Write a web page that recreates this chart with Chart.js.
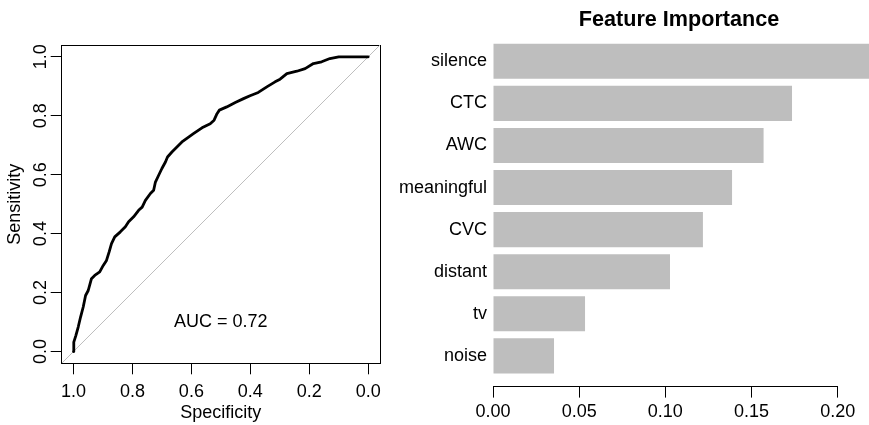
<!DOCTYPE html>
<html><head><meta charset="utf-8">
<script src="https://cdn.jsdelivr.net/npm/chart.js@4.4.1/dist/chart.umd.min.js"></script>
<style>
html,body{margin:0;padding:0;background:#fff;overflow:hidden;width:869px;height:425px;position:relative;}
#roc{position:absolute;left:0;top:0;}
#imp{position:absolute;left:380px;top:0;}
</style></head>
<body>
<canvas id="roc" width="390" height="425"></canvas>
<canvas id="imp" width="598" height="425"></canvas>
<script>
// ROC curve
const specificity = [1.000,0.999,0.992,0.984,0.976,0.967,0.959,0.950,0.939,0.928,0.911,0.899,0.888,0.879,0.871,0.860,0.841,0.824,0.813,0.796,0.779,0.767,0.756,0.739,0.728,0.722,0.711,0.700,0.688,0.681,0.666,0.649,0.632,0.613,0.593,0.564,0.536,0.523,0.513,0.505,0.480,0.451,0.423,0.401,0.373,0.344,0.316,0.299,0.276,0.242,0.214,0.186,0.158,0.130,0.100,0.000];
const sensitivity = [0.000,0.032,0.054,0.083,0.117,0.151,0.190,0.207,0.247,0.258,0.270,0.292,0.309,0.338,0.366,0.389,0.406,0.423,0.440,0.457,0.479,0.490,0.513,0.536,0.547,0.575,0.598,0.621,0.643,0.660,0.677,0.694,0.711,0.725,0.739,0.759,0.773,0.785,0.807,0.819,0.830,0.845,0.858,0.868,0.879,0.898,0.915,0.924,0.943,0.951,0.960,0.977,0.983,0.994,1.000,1.000];
const rocTicks = [1.0, 0.8, 0.6, 0.4, 0.2, 0.0];
const rocMin = -0.04, rocMax = 1.04;
const aucText = "AUC = 0.72";
const aucX = 0.5, aucY = 0.1;

// Feature importance
const features = ["silence","CTC","AWC","meaningful","CVC","distant","tv","noise"];
const importance = [0.219,0.1735,0.157,0.1387,0.1218,0.1027,0.0534,0.0354];
const impTicks = [0.00, 0.05, 0.10, 0.15, 0.20];

Chart.defaults.font.family = '"Liberation Sans", Arial, Helvetica, sans-serif';
Chart.defaults.font.size = 18;
Chart.defaults.color = '#000';
Chart.defaults.animation = false;

const fixW = w => s => { s.width = w; };
const fixH = h => s => { s.height = h; };

const aucPlugin = {
  id: 'aucText',
  afterDatasetsDraw(chart) {
    const {ctx, scales} = chart;
    ctx.save();
    ctx.font = '18px "Liberation Sans", Arial, sans-serif';
    ctx.fillStyle = '#000';
    ctx.textAlign = 'center';
    ctx.textBaseline = 'middle';
    ctx.fillText(aucText, scales.x.getPixelForValue(aucX), scales.y.getPixelForValue(aucY));
    ctx.restore();
  }
};

new Chart(document.getElementById('roc'), {
  type: 'scatter',
  data: {
    datasets: [
      {
        data: specificity.map((s, i) => ({x: s, y: sensitivity[i]})),
        showLine: true, borderColor: '#000', borderWidth: 2.8, pointRadius: 0,
        borderCapStyle: 'round', borderJoinStyle: 'round', tension: 0
      },
      {
        data: [rocMax, rocMin].map(v => ({x: v, y: 1 - v})),
        showLine: true, borderColor: '#BEBEBE', borderWidth: 1, pointRadius: 0
      }
    ]
  },
  options: {
    responsive: false,
    plugins: {legend: {display: false}, tooltip: {enabled: false}},
    layout: {padding: 0},
    scales: {
      x: {
        type: 'linear', position: 'bottom', reverse: true, min: rocMin, max: rocMax,
        afterBuildTicks: s => { s.ticks = rocTicks.map(v => ({value: v})); },
        ticks: {callback: v => v.toFixed(1), padding: 7, maxRotation: 0, autoSkip: false},
        grid: {display: true, drawOnChartArea: false, drawTicks: true, tickLength: 11, color: '#000'},
        border: {display: true, color: '#000', width: 1},
        title: {display: true, text: 'Specificity', padding: {top: 0, bottom: 1}},
        afterFit: fixH(425 - 363.3)
      },
      y: {
        type: 'linear', position: 'left', min: rocMin, max: rocMax,
        afterBuildTicks: s => { s.ticks = rocTicks.slice().reverse().map(v => ({value: v})); },
        ticks: {callback: v => v.toFixed(1), minRotation: 90, maxRotation: 90, crossAlign: 'center', padding: -3, autoSkip: false},
        grid: {display: true, drawOnChartArea: false, drawTicks: true, tickLength: 11, color: '#000'},
        border: {display: true, color: '#000', width: 1},
        title: {display: true, text: 'Sensitivity', padding: {top: 3.8, bottom: 0}},
        afterFit: fixW(61.7)
      },
      x2: {
        type: 'linear', position: 'top',
        ticks: {display: false}, grid: {display: false},
        border: {display: true, color: '#000', width: 1},
        afterFit: fixH(45)
      },
      y2: {
        type: 'linear', position: 'right',
        ticks: {display: false}, grid: {display: false},
        border: {display: true, color: '#000', width: 1},
        afterFit: fixW(10)
      }
    }
  },
  plugins: [aucPlugin]
});

new Chart(document.getElementById('imp'), {
  type: 'bar',
  data: {
    labels: features,
    datasets: [{
      data: features.map((f, i) => ({x: importance[i], y: i})),
      backgroundColor: '#BEBEBE', borderWidth: 0,
      categoryPercentage: 1, barPercentage: 0.833, clip: false
    }]
  },
  options: {
    indexAxis: 'y',
    responsive: false,
    plugins: {
      legend: {display: false}, tooltip: {enabled: false},
      title: {display: true, text: 'Feature Importance', fullSize: true,
        font: {size: 21.6, weight: 'bold', lineHeight: 1}, color: '#000',
        padding: {top: 9, bottom: 0}}
    },
    layout: {padding: 0},
    scales: {
      x: {
        type: 'linear', position: 'bottom', min: 0, max: 0.20,
        afterBuildTicks: s => { s.ticks = impTicks.map(v => ({value: v})); },
        ticks: {callback: v => v.toFixed(2), padding: 4, maxRotation: 0, autoSkip: false},
        grid: {display: true, drawOnChartArea: false, drawTicks: true, tickLength: 11, color: '#000'},
        border: {display: true, color: '#000', width: 1},
        afterFit: fixH(425 - 386.6)
      },
      y: {
        type: 'linear', position: 'left', reverse: true, offset: false,
        min: -0.73, max: features.length - 1 + 0.73,
        afterBuildTicks: s => { s.ticks = features.map((f, i) => ({value: i})); },
        ticks: {callback: v => features[v], padding: 6, autoSkip: false},
        grid: {display: false, drawTicks: false, tickLength: 0, offset: false}, border: {display: false},
        afterFit: fixW(113)
      },
      y2: {
        type: 'linear', position: 'right',
        ticks: {display: false}, grid: {display: false}, border: {display: false},
        afterFit: fixW(598 - (837.7 - 380))
      }
    }
  }
});
</script>
</body></html>
